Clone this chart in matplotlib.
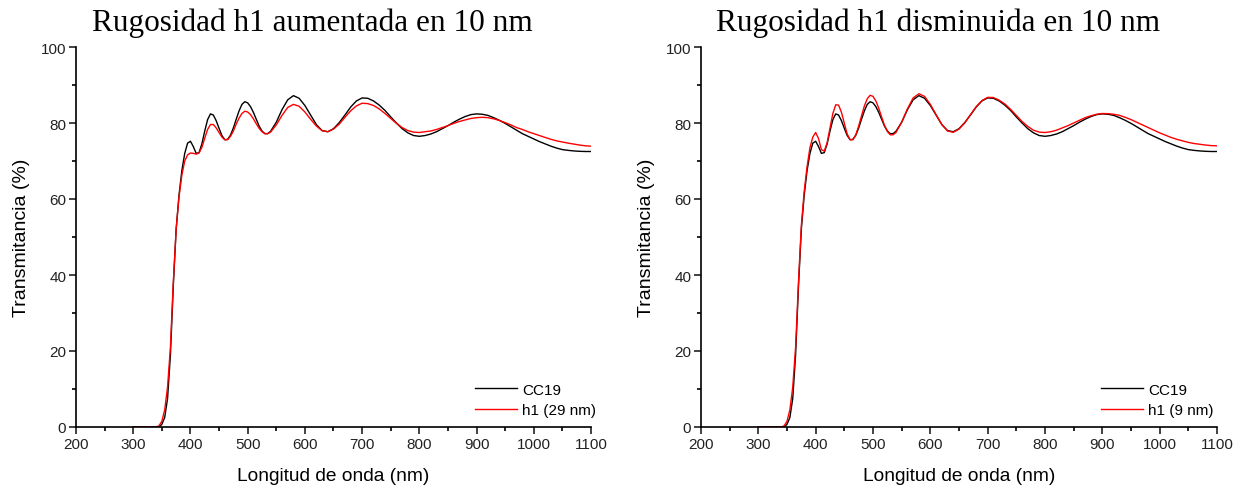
import matplotlib
matplotlib.use("Agg")
import matplotlib.pyplot as plt
from matplotlib.ticker import MultipleLocator

# Wavelength grid (nm)
wavelength = [300, 340, 345, 350, 355, 360, 365, 370, 375, 380, 385, 390, 395, 400,
              405, 410, 415, 420, 425, 430, 435, 440, 445, 450, 455, 460, 465, 470,
              475, 480, 485, 490, 495, 500, 505, 510, 515, 520, 525, 530, 535, 540,
              550, 560, 570, 580, 590, 600, 610, 620, 630, 640, 650, 660, 670, 680,
              690, 700, 710, 720, 730, 740, 750, 760, 770, 780, 790, 800, 810, 820,
              830, 840, 850, 860, 870, 880, 890, 900, 910, 920, 930, 940, 950, 960,
              970, 980, 990, 1000, 1010, 1020, 1030, 1040, 1050, 1060, 1070, 1080,
              1090, 1100]

# Measured transmittance of sample CC19 (%)
cc19 = [0, 0, 0, 0.7, 2.5, 7.5, 19, 37, 52, 61, 67.5, 72, 74.7, 75.2,
        73.8, 72.0, 72.2, 74.5, 77.9, 80.9, 82.4, 82.1, 80.6, 78.6, 76.7, 75.6, 75.7, 76.8,
        78.7, 81.0, 83.2, 84.9, 85.6, 85.3, 84.3, 82.8, 81.0, 79.2, 77.9, 77.2, 77.2, 77.8,
        80.2, 83.5, 86.1, 87.2, 86.5, 84.6, 82.1, 79.6, 78.0, 77.7, 78.5, 80.1, 82.1, 84.2,
        85.8, 86.6, 86.5, 85.8, 84.7, 83.3, 81.6, 80.0, 78.5, 77.4, 76.7, 76.5, 76.7, 77.1,
        77.7, 78.5, 79.3, 80.2, 81.0, 81.7, 82.2, 82.4, 82.3, 82.0, 81.4, 80.7, 79.9, 79.0,
        78.1, 77.2, 76.5, 75.8, 75.1, 74.5, 73.9, 73.4, 73.0, 72.8, 72.65, 72.55,
        72.5, 72.5]

# Simulated transmittance with roughness h1 = 29 nm (%)
h1_29nm = [0, 0, 0.3, 1.5, 4.5, 10.5, 21, 38, 52, 60.5, 66.3, 70.0, 71.6, 72.1,
           72.0, 71.8, 72.1, 73.6, 76.0, 78.3, 79.6, 79.6, 78.7, 77.5, 76.3, 75.6, 75.6, 76.5,
           77.9, 79.7, 81.3, 82.5, 83.1, 82.9, 82.2, 81.1, 79.8, 78.6, 77.7, 77.2, 77.2, 77.6,
           79.5, 82.0, 84.1, 84.9, 84.4, 82.9, 81.0, 79.2, 78.0, 77.7, 78.4, 79.7, 81.5, 83.2,
           84.5, 85.2, 85.1, 84.6, 83.7, 82.5, 81.2, 79.9, 78.8, 78.0, 77.6, 77.5, 77.7, 77.9,
           78.3, 78.8, 79.3, 79.9, 80.4, 80.8, 81.2, 81.4, 81.5, 81.4, 81.1, 80.65, 80.1, 79.5,
           78.8, 78.3, 77.7, 77.2, 76.7, 76.2, 75.7, 75.3, 75.0, 74.7, 74.45, 74.2,
           74.0, 73.9]

# Simulated transmittance with roughness h1 = 9 nm (%)
h1_9nm = [0, 0, 0.3, 1.5, 4.5, 10.5, 21, 38, 53, 62, 68.5, 73.5, 76.3, 77.5,
          75.9, 73.0, 72.6, 74.8, 78.7, 82.5, 84.8, 84.7, 82.8, 79.9, 77.1, 75.6, 75.6, 76.9,
          79.2, 81.9, 84.5, 86.4, 87.3, 87.0, 85.8, 83.9, 81.6, 79.4, 77.8, 76.9, 76.9, 77.5,
          80.2, 83.7, 86.6, 87.7, 87.0, 84.9, 82.2, 79.6, 77.9, 77.55, 78.4, 80.0, 82.2, 84.3,
          85.9, 86.75, 86.7, 86.0, 85.0, 83.6, 82.0, 80.4, 79.1, 78.1, 77.6, 77.5, 77.7, 78.1,
          78.7, 79.3, 80.0, 80.7, 81.4, 81.9, 82.3, 82.5, 82.45, 82.3, 82.0, 81.5, 80.9, 80.2,
          79.5, 78.8, 78.1, 77.4, 76.8, 76.2, 75.7, 75.3, 74.9, 74.6, 74.4, 74.2,
          74.05, 74.0]

titles = ["Rugosidad h1 aumentada en 10 nm", "Rugosidad h1 disminuida en 10 nm"]
labels_ref = ["CC19", "CC19"]
labels_sim = ["h1 (29 nm)", "h1 (9 nm)"]
sims = [h1_29nm, h1_9nm]

plt.rcParams['font.family'] = ['Liberation Sans', 'DejaVu Sans']

W, H = 1246, 489
fig = plt.figure(figsize=(W / 100, H / 100), dpi=100)

axes_px = [(76, 591), (701, 1217)]
title_x = [312, 938]
top_px, bot_px = 48, 428

for i in range(2):
    x0, x1 = axes_px[i]
    ax = fig.add_axes([x0 / W, 1 - bot_px / H, (x1 - x0) / W, (bot_px - top_px) / H])
    ax.plot(wavelength, cc19, color='black', lw=1.0, label=labels_ref[i])
    ax.plot(wavelength, sims[i], color='#ff0000', lw=1.0, label=labels_sim[i])
    ax.set_xlim(200, 1100)
    ax.set_ylim(0, 100)
    ax.xaxis.set_major_locator(MultipleLocator(100))
    ax.xaxis.set_minor_locator(MultipleLocator(50))
    ax.yaxis.set_major_locator(MultipleLocator(20))
    ax.yaxis.set_minor_locator(MultipleLocator(10))
    for s in ['top', 'right']:
        ax.spines[s].set_visible(False)
    for s in ['left', 'bottom']:
        ax.spines[s].set_linewidth(1.2)
    ax.tick_params(which='major', direction='out', length=5, width=1.2, labelsize=11,
                   pad=2, colors='#222222')
    ax.tick_params(which='minor', direction='out', length=3, width=1.2)
    ax.set_xlabel("Longitud de onda (nm)", fontsize=13.8, labelpad=12)
    ax.set_ylabel("Transmitancia (%)", fontsize=14, labelpad=8)
    ax.legend(loc='upper left', bbox_to_anchor=(0.775, 0.117), frameon=False,
              fontsize=11, handlelength=2.75, handletextpad=0.35, borderpad=0,
              borderaxespad=0, labelspacing=0.45)
    fig.text(title_x[i] / W, 1 - 23 / H, titles[i], ha='center', va='center',
             fontsize=22.5, family=['Liberation Serif', 'DejaVu Serif'])

fig.savefig("out.png", dpi=100)
